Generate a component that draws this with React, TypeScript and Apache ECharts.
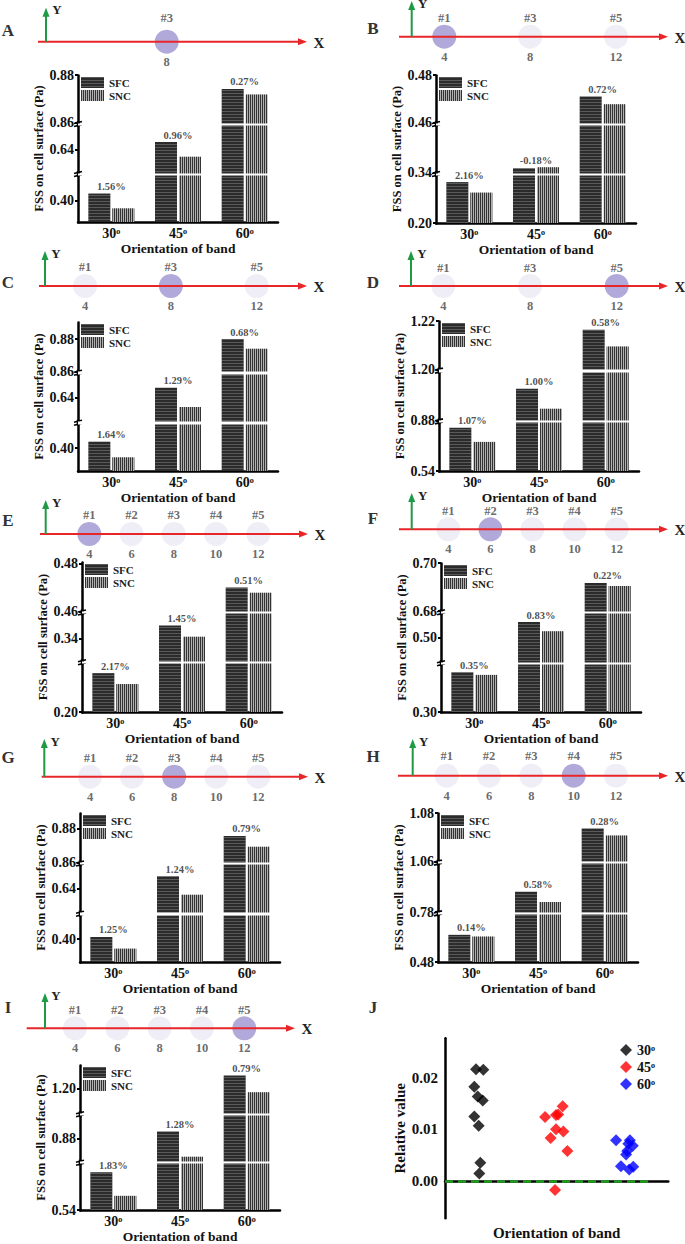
import React, { useEffect, useRef } from 'react';
import * as echarts from 'echarts';

const FONT = '"Liberation Serif", "Times New Roman", serif';
const SUP_O = '\u1D52';

const categories = ['30', '45', '60'];
const letters = ['A', 'B', 'C', 'D', 'E', 'F', 'G', 'H', 'I'];

// ---- bar values (Pa) ----
const sfcA = [0.4029, 0.6431, 0.8742];
const sncA = [0.3967, 0.637, 0.8718];
const sfcB = [0.2171, 0.342, 0.471];
const sncB = [0.2127, 0.3424, 0.4678];
const sfcC = [0.404, 0.646, 0.88];
const sncC = [0.3944, 0.6342, 0.874];
const sfcD = [0.5578, 0.893, 1.2164];
const sncD = [0.552, 0.8847, 1.2095];
const sfcE = [0.2164, 0.3455, 0.47];
const sncE = [0.2118, 0.3407, 0.4678];
const sfcF = [0.3165, 0.5065, 0.6917];
const sncF = [0.3154, 0.5027, 0.6904];
const sfcG = [0.4013, 0.6471, 0.8756];
const sncG = [0.3944, 0.6361, 0.8692];
const sfcH = [0.4912, 0.7884, 1.0736];
const sncH = [0.4905, 0.7842, 1.0707];
const sfcI = [0.556, 0.883, 1.2056];
const sncI = [0.546, 0.8723, 1.1985];

// ---- relative difference labels (%) ----
const pctA = [1.56, 0.96, 0.27];
const pctB = [2.16, -0.18, 0.72];
const pctC = [1.64, 1.29, 0.68];
const pctD = [1.07, 1.0, 0.58];
const pctE = [2.17, 1.45, 0.51];
const pctF = [0.35, 0.83, 0.22];
const pctG = [1.25, 1.24, 0.79];
const pctH = [0.14, 0.58, 0.28];
const pctI = [1.83, 1.28, 0.79];

// ---- y tick labels ----
const ticksA = [0.4, 0.64, 0.86, 0.88];
const ticksB = [0.2, 0.34, 0.46, 0.48];
const ticksC = [0.4, 0.64, 0.86, 0.88];
const ticksD = [0.54, 0.88, 1.2, 1.22];
const ticksE = [0.2, 0.34, 0.46, 0.48];
const ticksF = [0.3, 0.5, 0.68, 0.7];
const ticksG = [0.4, 0.64, 0.86, 0.88];
const ticksH = [0.48, 0.78, 1.06, 1.08];
const ticksI = [0.54, 0.88, 1.2];

// ---- axis ranges and breaks ----
const rangeA = [0.391, 0.88];
const rangeB = [0.2, 0.48];
const rangeC = [0.386, 0.8905];
const rangeD = [0.54, 1.22];
const rangeE = [0.2, 0.4808];
const rangeF = [0.3, 0.7];
const rangeG = [0.3865, 0.8892];
const rangeH = [0.48, 1.08];
const rangeI = [0.54, 1.21];
const breaksA = [[0.4106, 0.6302], [0.6502, 0.86]];
const breaksB = [[0.22, 0.34], [0.36, 0.46]];
const breaksC = [[0.415, 0.6253], [0.6546, 0.86]];
const breaksD = [[0.56, 0.88], [0.9, 1.2]];
const breaksE = [[0.2205, 0.3304], [0.3505, 0.46]];
const breaksF = [[0.3198, 0.4899], [0.5101, 0.68]];
const breaksG = [[0.4144, 0.6256], [0.654, 0.86]];
const breaksH = [[0.4996, 0.78], [0.8, 1.06]];
const breaksI = [[0.5596, 0.8703], [0.8899, 1.1896]];

// ---- schematic band positions ----
const bandsOne = [8];
const hashOne = ['#3'];
const bandsThree = [4, 8, 12];
const hashThree = ['#1', '#3', '#5'];
const bandsFive = [4, 6, 8, 10, 12];
const hashFive = ['#1', '#2', '#3', '#4', '#5'];
const activeBand = [8, 4, 8, 12, 4, 6, 8, 10, 12];

// ---- panel J jitter x positions ----
const jx30 = [1.69, 1.715, 1.464, 1.509, 1.388, 1.581, 1.312, 1.536, 1.312];
const jx45 = [5.3, 4.93, 5.07, 4.97, 5.27, 4.73, 4.48, 5.48, 4.97];
const jx60 = [8.43, 8.21, 8.41, 8.16, 8.11, 8.25, 7.66, 7.88, 8.28];
const jNames = ['30', '45', '60'];
const jColors = ['#000000', '#ff0000', '#0000ff'];
const jTicks = [0, 0.01, 0.02];

const panels = [
  { sfc: sfcA, snc: sncA, pct: pctA, ticks: ticksA, range: rangeA, breaks: breaksA, bands: bandsOne, hash: hashOne },
  { sfc: sfcB, snc: sncB, pct: pctB, ticks: ticksB, range: rangeB, breaks: breaksB, bands: bandsThree, hash: hashThree },
  { sfc: sfcC, snc: sncC, pct: pctC, ticks: ticksC, range: rangeC, breaks: breaksC, bands: bandsThree, hash: hashThree },
  { sfc: sfcD, snc: sncD, pct: pctD, ticks: ticksD, range: rangeD, breaks: breaksD, bands: bandsThree, hash: hashThree },
  { sfc: sfcE, snc: sncE, pct: pctE, ticks: ticksE, range: rangeE, breaks: breaksE, bands: bandsFive, hash: hashFive },
  { sfc: sfcF, snc: sncF, pct: pctF, ticks: ticksF, range: rangeF, breaks: breaksF, bands: bandsFive, hash: hashFive },
  { sfc: sfcG, snc: sncG, pct: pctG, ticks: ticksG, range: rangeG, breaks: breaksG, bands: bandsFive, hash: hashFive },
  { sfc: sfcH, snc: sncH, pct: pctH, ticks: ticksH, range: rangeH, breaks: breaksH, bands: bandsFive, hash: hashFive },
  { sfc: sfcI, snc: sncI, pct: pctI, ticks: ticksI, range: rangeI, breaks: breaksI, bands: bandsFive, hash: hashFive },
];

// layout (pixels)
const barLayouts = [
  { left: 78, top: 75, bottom: 222 },
  { left: 436, top: 75, bottom: 223 },
  { left: 78, top: 322, bottom: 471 },
  { left: 439, top: 321, bottom: 471 },
  { left: 82, top: 562, bottom: 712 },
  { left: 441, top: 563, bottom: 712 },
  { left: 80, top: 813, bottom: 962 },
  { left: 438, top: 813, bottom: 962 },
  { left: 80, top: 1065, bottom: 1214 },
];
const schemLayouts = [
  { p4: 80.9, p12: 252.5, lineY: 41.7, yX: 46, start: 38, tip: 307, yTop: 7.7, lx: 8, ly: 30, hd: 5 },
  { p4: 444.3, p12: 616, lineY: 36.7, yX: 411.7, start: 399, tip: 668, yTop: 1, lx: 373, ly: 28, hd: 0 },
  { p4: 85, p12: 256.7, lineY: 286, yX: 45, start: 39, tip: 307, yTop: 251, lx: 8, ly: 282, hd: 1 },
  { p4: 443.3, p12: 616.7, lineY: 286, yX: 411, start: 399, tip: 668, yTop: 251, lx: 373, ly: 282, hd: 0 },
  { p4: 89.3, p12: 258.3, lineY: 534, yX: 45.7, start: 40, tip: 308, yTop: 500, lx: 8, ly: 520, hd: 1 },
  { p4: 448.3, p12: 616.7, lineY: 529.3, yX: 411.7, start: 399, tip: 668, yTop: 493, lx: 373, ly: 518, hd: 0 },
  { p4: 90, p12: 258.3, lineY: 776.7, yX: 44.3, start: 41.7, tip: 308, yTop: 739, lx: 8, ly: 757, hd: 0 },
  { p4: 446.7, p12: 616, lineY: 775.7, yX: 412.7, start: 398, tip: 668, yTop: 739, lx: 373, ly: 756, hd: 1 },
  { p4: 75, p12: 244.3, lineY: 1028.3, yX: 45, start: 26.7, tip: 295, yTop: 993, lx: 8, ly: 1007, hd: 0 },
];
const BAR_W = 200;

const catLabelStyle = { fontFamily: FONT, fontWeight: 'bold', fontSize: 14, color: '#111' };

function buildOption() {
  const grid: any[] = [];
  const xAxis: any[] = [];
  const yAxis: any[] = [];
  const series: any[] = [];
  const legend: any[] = [];
  const graphic: any[] = [];
  const barY: number[] = [];

  panels.forEach((p, i) => {
    const L = barLayouts[i];
    const gi = grid.length;
    barY.push(gi);
    grid.push({ left: L.left, top: L.top, width: BAR_W, height: L.bottom - L.top });
    xAxis.push({
      type: 'category', gridIndex: gi, data: categories,
      axisLine: { lineStyle: { color: '#000', width: 2.5 } },
      axisTick: { show: false },
      axisLabel: { margin: 4, formatter: (v: string) => v + SUP_O, ...catLabelStyle },
      name: 'Orientation of band', nameLocation: 'middle', nameGap: 19,
      nameTextStyle: { fontFamily: FONT, fontWeight: 'bold', fontSize: 13.5, color: '#111' },
    });
    yAxis.push({
      type: 'value', gridIndex: gi, min: p.range[0], max: p.range[1],
      breaks: p.breaks.map((b) => ({ start: b[0], end: b[1], gap: '1.5%' })),
      breakArea: {
        show: true,
        itemStyle: { color: '#fff', opacity: 1, borderWidth: 0, borderColor: '#fff' },
        zigzagAmplitude: 0,
      },
      splitLine: { show: false },
      axisLine: { show: true, lineStyle: { color: '#000', width: 2.5 } },
      axisTick: { show: true, length: 3, customValues: p.ticks, lineStyle: { color: '#000', width: 2 } },
      axisLabel: {
        customValues: p.ticks, margin: 4, formatter: (v: number) => v.toFixed(2),
        fontFamily: FONT, fontWeight: 'bold', fontSize: 14, color: '#111',
      },
      name: 'FSS on cell surface (Pa)', nameLocation: 'middle', nameGap: 31,
      nameTextStyle: { fontFamily: FONT, fontWeight: 'bold', fontSize: 12.5, color: '#111' },
    });
    series.push({
      type: 'bar', name: 'SFC', xAxisIndex: gi, yAxisIndex: gi, data: p.sfc,
      barWidth: 22, barGap: '9%', clip: true,
      itemStyle: {
        color: '#2b2b2b',
        decal: { symbol: 'rect', symbolSize: 1, dashArrayX: [4, 0], dashArrayY: [1, 2], color: 'rgba(255,255,255,0.22)' },
      },
    });
    series.push({
      type: 'bar', name: 'SNC', xAxisIndex: gi, yAxisIndex: gi, data: p.snc,
      barWidth: 22, clip: true,
      itemStyle: {
        color: '#b0b0b0',
        decal: { symbol: 'rect', symbolSize: 1, dashArrayX: [1, 1], dashArrayY: [4, 0], color: '#333' },
      },
    });
    series.push({
      type: 'scatter', name: 'diff', xAxisIndex: gi, yAxisIndex: gi, silent: true,
      symbolSize: 1, itemStyle: { color: 'rgba(0,0,0,0)' },
      data: p.sfc.map((v, k) => Math.max(v, p.snc[k])),
      label: {
        show: true, position: 'top', distance: 1,
        formatter: (d: any) => p.pct[d.dataIndex].toFixed(2) + '%',
        fontFamily: FONT, fontWeight: 'bold', fontSize: 10.5, color: '#222',
      },
      z: 300, zlevel: 0,
    });
    legend.push({
      left: L.left + 3, top: L.top + 2, orient: 'vertical', data: ['SFC', 'SNC'],
      itemWidth: 23, itemHeight: 11, itemGap: 2, padding: 0, icon: 'rect', selectedMode: false,
      textStyle: { fontFamily: FONT, fontWeight: 'bold', fontSize: 11, color: '#222' },
    });

    // schematic
    const S = schemLayouts[i];
    const gs = grid.length;
    grid.push({ left: S.p4, width: S.p12 - S.p4, top: S.lineY - 10, height: 20 });
    xAxis.push({ type: 'value', gridIndex: gs, min: 4, max: 12, show: false });
    yAxis.push({ type: 'value', gridIndex: gs, min: -1, max: 1, show: false });
    const pts = p.bands.map((b) => ({
      value: [b, 0],
      itemStyle: { color: b === activeBand[i] ? '#9c94d0' : '#ebe9f4' },
    }));
    series.push({
      type: 'scatter', name: 'band', xAxisIndex: gs, yAxisIndex: gs, silent: true,
      symbolSize: 24, data: pts, z: 1,
      label: {
        show: true, position: 'top', distance: S.hd,
        formatter: (d: any) => p.hash[d.dataIndex],
        fontFamily: FONT, fontWeight: 'bold', fontSize: 12.5, color: '#444',
      },
    });
    series.push({
      type: 'scatter', name: 'bandpos', xAxisIndex: gs, yAxisIndex: gs, silent: true,
      symbolSize: 24, itemStyle: { color: 'rgba(0,0,0,0)' },
      data: p.bands.map((b) => [b, 0]), z: 1,
      label: {
        show: true, position: 'bottom', distance: 1.5,
        formatter: (d: any) => String(d.value[0]),
        fontFamily: FONT, fontWeight: 'bold', fontSize: 12.5, color: '#444',
      },
    });
    // arrows
    graphic.push({ type: 'line', z: 50, shape: { x1: S.start, y1: S.lineY, x2: S.tip - 7, y2: S.lineY }, style: { stroke: '#e8262a', lineWidth: 2 } });
    graphic.push({ type: 'polygon', z: 50, shape: { points: [[S.tip, S.lineY], [S.tip - 9, S.lineY - 3.5], [S.tip - 9, S.lineY + 3.5]] }, style: { fill: '#e8262a' } });
    graphic.push({ type: 'line', z: 51, shape: { x1: S.yX, y1: S.lineY, x2: S.yX, y2: S.yTop + 7 }, style: { stroke: '#1e9a45', lineWidth: 2 } });
    graphic.push({ type: 'polygon', z: 51, shape: { points: [[S.yX, S.yTop], [S.yX - 3.5, S.yTop + 9], [S.yX + 3.5, S.yTop + 9]] }, style: { fill: '#1e9a45' } });
    graphic.push({ type: 'text', z: 51, style: { text: 'X', x: S.tip + 12, y: S.lineY + 1, align: 'center', verticalAlign: 'middle', fontFamily: FONT, fontWeight: 'bold', fontSize: 15, fill: '#222' } });
    graphic.push({ type: 'text', z: 51, style: { text: 'Y', x: S.yX + 11, y: S.yTop + 2, align: 'center', verticalAlign: 'middle', fontFamily: FONT, fontWeight: 'bold', fontSize: 13, fill: '#222' } });
    graphic.push({ type: 'text', z: 51, style: { text: letters[i], x: S.lx, y: S.ly, align: 'center', verticalAlign: 'middle', fontFamily: FONT, fontWeight: 'bold', fontSize: 17, fill: '#333' } });
  });

  // ---- panel J ----
  const gj = grid.length;
  grid.push({ left: 445, top: 1038.3, width: 223.3, height: 180 });
  xAxis.push({
    type: 'value', gridIndex: gj, min: 0, max: 10,
    axisLine: { show: true, lineStyle: { color: '#000', width: 2.5 } },
    axisTick: { show: false }, axisLabel: { show: false }, splitLine: { show: false },
    name: 'Orientation of band', nameLocation: 'middle', nameGap: 7,
    nameTextStyle: { fontFamily: FONT, fontWeight: 'bold', fontSize: 15, color: '#111' },
  });
  yAxis.push({
    type: 'value', gridIndex: gj, min: -0.0073, max: 0.0277,
    axisLine: { show: true, lineStyle: { color: '#000', width: 2.5 } },
    axisTick: { show: false }, splitLine: { show: false },
    axisLabel: {
      customValues: jTicks, margin: 7, formatter: (v: number) => v.toFixed(2),
      fontFamily: FONT, fontWeight: 'bold', fontSize: 15, color: '#111',
    },
    name: 'Relative value', nameLocation: 'middle', nameGap: 35,
    nameTextStyle: { fontFamily: FONT, fontWeight: 'bold', fontSize: 15, color: '#111' },
  });
  const jx = [jx30, jx45, jx60];
  jNames.forEach((nm, k) => {
    series.push({
      type: 'scatter', name: nm, xAxisIndex: gj, yAxisIndex: gj,
      symbol: 'diamond', symbolSize: 12, itemStyle: { color: jColors[k] },
      data: panels.map((p, i) => [jx[k][i], p.pct[k] / 100]),
      markLine: k === 0 ? {
        silent: true, symbol: 'none', label: { show: false },
        lineStyle: { color: '#1f9e1f', type: [8, 5], width: 2.5 },
        data: [[{ coord: [0, 0] }, { coord: [9.26, 0] }]],
      } : undefined,
    });
  });
  legend.push({
    left: 620, top: 1043, orient: 'vertical', data: jNames,
    icon: 'diamond', itemWidth: 12, itemHeight: 12, itemGap: 3, padding: 0, selectedMode: false,
    formatter: (n: string) => n + SUP_O,
    textStyle: { fontFamily: FONT, fontWeight: 'bold', fontSize: 14, color: '#111' },
  });
  graphic.push({ type: 'text', z: 51, style: { text: 'J', x: 373, y: 1007, align: 'center', verticalAlign: 'middle', fontFamily: FONT, fontWeight: 'bold', fontSize: 17, fill: '#333' } });

  return { option: { animation: false, backgroundColor: '#fff', grid, xAxis, yAxis, series, legend, graphic: { elements: graphic } }, barY, graphic };
}

export default function App() {
  const ref = useRef<HTMLDivElement>(null);
  useEffect(() => {
    if (!ref.current) return;
    const chart = echarts.init(ref.current, null, { renderer: 'svg' });
    const { option, barY, graphic } = buildOption();
    chart.setOption(option as any);
    // break marks on the y axes, positioned through the axis scale
    const marks: any[] = [];
    panels.forEach((p, i) => {
      const x = barLayouts[i].left;
      p.breaks.forEach((b) => {
        const y1 = chart.convertToPixel({ yAxisIndex: barY[i] } as any, b[0]) as any;
        const y2 = chart.convertToPixel({ yAxisIndex: barY[i] } as any, b[1]) as any;
        if (typeof y1 !== 'number' || typeof y2 !== 'number' || isNaN(y1) || isNaN(y2)) return;
        const y = (y1 + y2) / 2;
        marks.push({ type: 'line', z: 60, shape: { x1: x - 4, y1: y - 0.5, x2: x + 4, y2: y - 2.5 }, style: { stroke: '#000', lineWidth: 1.6 } });
        marks.push({ type: 'line', z: 60, shape: { x1: x - 4, y1: y + 2.5, x2: x + 4, y2: y + 0.5 }, style: { stroke: '#000', lineWidth: 1.6 } });
        marks.push({ type: 'line', z: 59, shape: { x1: x, y1: y - 3, x2: x, y2: y + 3 }, style: { stroke: '#000', lineWidth: 2.5 } });
      });
    });
    chart.setOption({ graphic: { elements: [...graphic, ...marks] } } as any);
    return () => chart.dispose();
  }, []);
  return <div ref={ref} style={{ position: 'fixed', left: 0, top: 0, width: 685, height: 1244, background: '#fff' }} />;
}
